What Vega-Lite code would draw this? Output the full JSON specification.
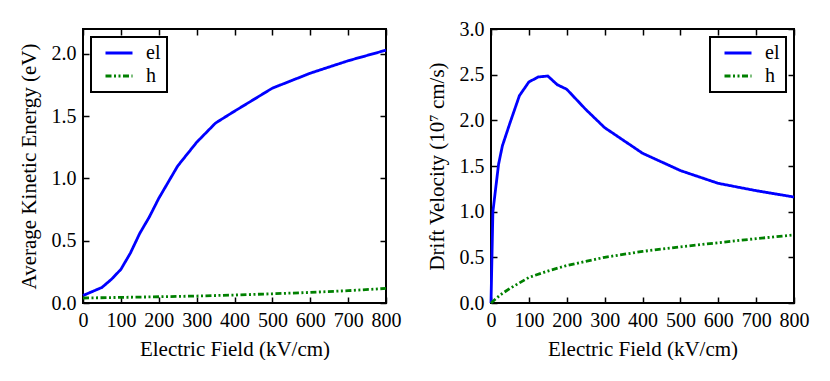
{
  "$schema": "https://vega.github.io/schema/vega-lite/v6.json",
  "background": "white",
  "padding": {"left": 16, "top": 18, "right": 0, "bottom": 0},
  "bounds": "flush",
  "spacing": 105,
  "config": {
    "font": "Liberation Serif",
    "view": {"stroke": "black", "strokeWidth": 2},
    "axis": {
      "labelFont": "Liberation Serif", "titleFont": "Liberation Serif",
      "labelFontSize": 20, "titleFontSize": 21, "titleFontWeight": "normal",
      "labelColor": "black", "titleColor": "black",
      "domain": false, "grid": false, "tickSize": -6, "tickColor": "black", "tickWidth": 1.5,
      "labelPadding": 13, "labelFlush": false, "labelOverlap": false, "titlePadding": 8
    },
    "axisY": {"titlePadding": 12},
    "legend": {
      "title": null, "strokeColor": "black", "strokeWidth": 2, "padding": 6,
      "symbolType": "M-1.588,0H1.588", "symbolSize": 289, "symbolStrokeWidth": 2.8,
      "symbolOffset": 12,
      "labelFont": "Liberation Serif", "labelFontSize": 20, "labelColor": "black",
      "labelOffset": 17, "rowPadding": 3, "offset": 8, "fillColor": "white"
    }
  },
  "datasets": {
    "energy": [
      {"E": 0, "value": 0.06, "carrier": "el"},
      {"E": 50, "value": 0.125, "carrier": "el"},
      {"E": 75, "value": 0.19, "carrier": "el"},
      {"E": 100, "value": 0.27, "carrier": "el"},
      {"E": 125, "value": 0.40, "carrier": "el"},
      {"E": 150, "value": 0.56, "carrier": "el"},
      {"E": 175, "value": 0.69, "carrier": "el"},
      {"E": 200, "value": 0.84, "carrier": "el"},
      {"E": 250, "value": 1.10, "carrier": "el"},
      {"E": 300, "value": 1.29, "carrier": "el"},
      {"E": 350, "value": 1.445, "carrier": "el"},
      {"E": 400, "value": 1.54, "carrier": "el"},
      {"E": 500, "value": 1.725, "carrier": "el"},
      {"E": 600, "value": 1.845, "carrier": "el"},
      {"E": 700, "value": 1.945, "carrier": "el"},
      {"E": 800, "value": 2.03, "carrier": "el"},
      {"E": 0, "value": 0.04, "carrier": "h"},
      {"E": 100, "value": 0.045, "carrier": "h"},
      {"E": 200, "value": 0.05, "carrier": "h"},
      {"E": 300, "value": 0.056, "carrier": "h"},
      {"E": 400, "value": 0.064, "carrier": "h"},
      {"E": 500, "value": 0.074, "carrier": "h"},
      {"E": 600, "value": 0.085, "carrier": "h"},
      {"E": 700, "value": 0.099, "carrier": "h"},
      {"E": 800, "value": 0.117, "carrier": "h"}
    ],
    "velocity": [
      {"E": 0, "value": 0, "carrier": "el"},
      {"E": 5, "value": 1.0, "carrier": "el"},
      {"E": 20, "value": 1.52, "carrier": "el"},
      {"E": 30, "value": 1.72, "carrier": "el"},
      {"E": 50, "value": 1.97, "carrier": "el"},
      {"E": 75, "value": 2.27, "carrier": "el"},
      {"E": 100, "value": 2.42, "carrier": "el"},
      {"E": 125, "value": 2.475, "carrier": "el"},
      {"E": 150, "value": 2.485, "carrier": "el"},
      {"E": 175, "value": 2.39, "carrier": "el"},
      {"E": 200, "value": 2.34, "carrier": "el"},
      {"E": 250, "value": 2.12, "carrier": "el"},
      {"E": 300, "value": 1.92, "carrier": "el"},
      {"E": 400, "value": 1.64, "carrier": "el"},
      {"E": 500, "value": 1.45, "carrier": "el"},
      {"E": 600, "value": 1.31, "carrier": "el"},
      {"E": 700, "value": 1.23, "carrier": "el"},
      {"E": 800, "value": 1.16, "carrier": "el"},
      {"E": 0, "value": 0, "carrier": "h"},
      {"E": 25, "value": 0.09, "carrier": "h"},
      {"E": 50, "value": 0.16, "carrier": "h"},
      {"E": 75, "value": 0.22, "carrier": "h"},
      {"E": 100, "value": 0.28, "carrier": "h"},
      {"E": 150, "value": 0.35, "carrier": "h"},
      {"E": 200, "value": 0.41, "carrier": "h"},
      {"E": 300, "value": 0.50, "carrier": "h"},
      {"E": 400, "value": 0.565, "carrier": "h"},
      {"E": 500, "value": 0.615, "carrier": "h"},
      {"E": 600, "value": 0.66, "carrier": "h"},
      {"E": 700, "value": 0.705, "carrier": "h"},
      {"E": 800, "value": 0.745, "carrier": "h"}
    ]
  },
  "resolve": {"scale": {"color": "independent", "strokeDash": "independent", "y": "independent"}},
  "hconcat": [
    {
      "width": 303, "height": 274,
      "data": {"name": "energy"},
      "layer": [
        {
          "mark": {"type": "line", "strokeWidth": 2.8},
          "encoding": {
            "x": {"field": "E", "type": "quantitative", "scale": {"domain": [0, 800], "nice": false},
                  "axis": {"title": "Electric Field (kV/cm)", "values": [0,100,200,300,400,500,600,700,800]}},
            "y": {"field": "value", "type": "quantitative", "scale": {"domain": [0, 2.2], "nice": false},
                  "axis": {"title": "Average Kinetic Energy (eV)", "values": [0,0.5,1,1.5,2], "format": ".1f"}},
            "color": {"field": "carrier", "type": "nominal", "scale": {"domain": ["el","h"], "range": ["#0000ff","#008000"]},
                      "legend": {"orient": "top-left"}},
            "strokeDash": {"field": "carrier", "type": "nominal", "scale": {"domain": ["el","h"], "range": [[1,0],[6,2.5,2,2.5,2,2.5]]},
                      "legend": {"orient": "top-left"}}
          }
        },
        {
          "mark": {"type": "point", "opacity": 0},
          "encoding": {
            "x": {"field": "E", "type": "quantitative", "axis": {"orient": "top", "labels": false, "title": null, "values": [0,100,200,300,400,500,600,700,800]}},
            "y": {"field": "value", "type": "quantitative", "axis": {"orient": "right", "labels": false, "title": null, "values": [0,0.5,1,1.5,2]}}
          }
        }
      ],
      "resolve": {"axis": {"x": "independent", "y": "independent"}}
    },
    {
      "width": 303, "height": 274,
      "data": {"name": "velocity"},
      "layer": [
        {
          "mark": {"type": "line", "strokeWidth": 2.8},
          "encoding": {
            "x": {"field": "E", "type": "quantitative", "scale": {"domain": [0, 800], "nice": false},
                  "axis": {"title": "Electric Field (kV/cm)", "values": [0,100,200,300,400,500,600,700,800]}},
            "y": {"field": "value", "type": "quantitative", "scale": {"domain": [0, 3], "nice": false},
                  "axis": {"title": "Drift Velocity (10⁷ cm/s)", "values": [0,0.5,1,1.5,2,2.5,3], "format": ".1f"}},
            "color": {"field": "carrier", "type": "nominal", "scale": {"domain": ["el","h"], "range": ["#0000ff","#008000"]},
                      "legend": {"orient": "top-right"}},
            "strokeDash": {"field": "carrier", "type": "nominal", "scale": {"domain": ["el","h"], "range": [[1,0],[6,2.5,2,2.5,2,2.5]]},
                      "legend": {"orient": "top-right"}}
          }
        },
        {
          "mark": {"type": "point", "opacity": 0},
          "encoding": {
            "x": {"field": "E", "type": "quantitative", "axis": {"orient": "top", "labels": false, "title": null, "values": [0,100,200,300,400,500,600,700,800]}},
            "y": {"field": "value", "type": "quantitative", "axis": {"orient": "right", "labels": false, "title": null, "values": [0,0.5,1,1.5,2,2.5,3]}}
          }
        }
      ],
      "resolve": {"axis": {"x": "independent", "y": "independent"}}
    }
  ]
}
